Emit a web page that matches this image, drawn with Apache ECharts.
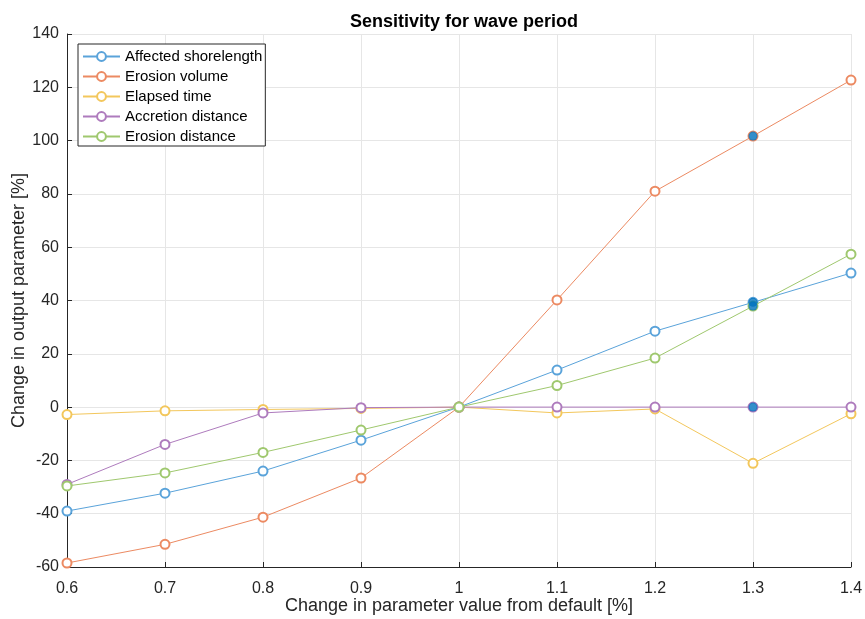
<!DOCTYPE html>
<html>
<head>
<meta charset="utf-8">
<script src="https://cdn.jsdelivr.net/npm/echarts@6/dist/echarts.min.js"></script>
<style>html,body{margin:0;padding:0;background:#fff}#c{width:865px;height:619px}</style>
</head>
<body>
<div id="c"></div>
<script>
const xValues = [0.6, 0.7, 0.8, 0.9, 1.0, 1.1, 1.2, 1.3, 1.4];
const affectedShorelength = [-39.0, -32.3, -24.0, -12.4, 0, 13.9, 28.5, 39.3, 50.3];
const erosionVolume = [-58.5, -51.5, -41.3, -26.6, 0, 40.2, 81.0, 101.7, 122.7];
const elapsedTime = [-2.8, -1.4, -0.9, -0.5, 0, -2.2, -0.7, -21.1, -2.5];
const accretionDistance = [-29.0, -14.0, -2.2, -0.2, 0, 0, 0, 0, 0];
const erosionDistance = [-29.6, -24.7, -17.0, -8.6, 0, 8.1, 18.4, 37.9, 57.4];
const highlightX = [1.3, 1.3, 1.3, 1.3];
const highlightY = [101.7, 39.3, 37.9, 0];
const seriesNames = ['Affected shorelength', 'Erosion volume', 'Elapsed time', 'Accretion distance', 'Erosion distance'];
const seriesData = [affectedShorelength, erosionVolume, elapsedTime, accretionDistance, erosionDistance];
const colors = ['#5aa3da', '#ec8a62', '#f3c75c', '#ae7bbd', '#9fc86e'];

const font = 'Liberation Sans, Arial, Helvetica, sans-serif';
const series = seriesNames.map((n, i) => ({
  name: n,
  type: 'line',
  data: xValues.map((x, j) => [x, seriesData[i][j]]),
  symbol: 'emptyCircle',
  symbolSize: 9,
  showSymbol: true,
  lineStyle: { width: 1, color: colors[i] },
  itemStyle: { color: colors[i], borderWidth: 1, borderColor: colors[i] },
  emphasis: { disabled: true },
  z: 2 + i
}));
series.push({
  name: 'highlight',
  type: 'scatter',
  data: highlightX.map((x, j) => [x, highlightY[j]]),
  symbol: 'circle',
  symbolSize: 9,
  itemStyle: { color: '#0072BD' },
  emphasis: { disabled: true },
  z: 10
});

const chart = echarts.init(document.getElementById('c'), null, { renderer: 'canvas' });
chart.setOption({
  animation: false,
  backgroundColor: '#fff',
  title: {
    text: 'Sensitivity for wave period',
    left: 459, top: 8, textAlign: 'center',
    textStyle: { fontFamily: font, fontSize: 18, fontWeight: 'bold', color: '#000' }
  },
  legend: {
    data: seriesNames,
    orient: 'vertical',
    left: 78, top: 44,
    padding: [5, 3, 2, 4],
    itemWidth: 37, itemHeight: 11, itemGap: 5,
    borderColor: '#262626', borderWidth: 1,
    backgroundColor: '#fff',
    textStyle: { fontFamily: font, fontSize: 15, lineHeight: 11, color: '#000' }
  },
  grid: { left: 67, right: 14, top: 34, bottom: 52, containLabel: false, outerBoundsMode: 'none' },
  xAxis: {
    type: 'value', min: 0.6, max: 1.4, interval: 0.1,
    name: 'Change in parameter value from default [%]',
    nameLocation: 'middle', nameGap: 30, nameMoveOverlap: false,
    nameTextStyle: { fontFamily: font, fontSize: 18, color: '#262626' },
    axisLine: { show: true, onZero: false, lineStyle: { color: '#262626', width: 1 } },
    axisTick: { show: true, inside: true, length: 5, lineStyle: { color: '#262626' } },
    axisLabel: { fontFamily: font, fontSize: 16, color: '#262626', margin: 14,
      formatter: v => String(parseFloat(v.toFixed(1))) },
    splitLine: { show: true, lineStyle: { color: '#e6e6e6', width: 1 } }
  },
  yAxis: {
    type: 'value', min: -60, max: 140, interval: 20,
    name: 'Change in output parameter [%]',
    nameLocation: 'middle', nameGap: 39, nameMoveOverlap: false,
    nameTextStyle: { fontFamily: font, fontSize: 18, color: '#262626' },
    axisLine: { show: true, onZero: false, lineStyle: { color: '#262626', width: 1 } },
    axisTick: { show: true, inside: true, length: 5, lineStyle: { color: '#262626' } },
    axisLabel: { fontFamily: font, fontSize: 16, color: '#262626', margin: 8 },
    splitLine: { show: true, lineStyle: { color: '#e6e6e6', width: 1 } }
  },
  series: series
});
</script>
</body>
</html>
